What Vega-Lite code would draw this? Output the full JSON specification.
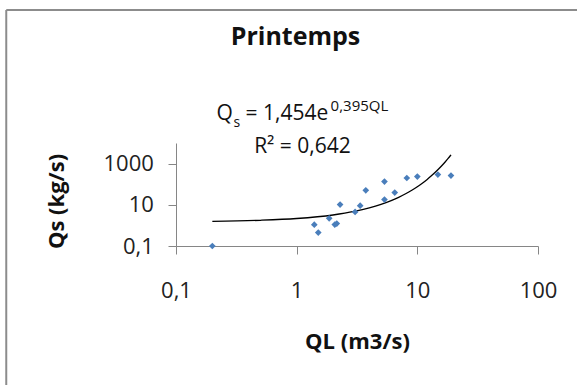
{
  "$schema": "https://vega.github.io/schema/vega-lite/v6.json",
  "width": 362,
  "height": 103,
  "autosize": "none",
  "padding": {"left": 176, "top": 143, "right": 39, "bottom": 139},
  "background": "white",
  "config": {
    "view": {"stroke": null},
    "font": "Open Sans",
    "axis": {
      "grid": false,
      "domainColor": "#868686",
      "tickColor": "#868686",
      "tickSize": 8,
      "labelFont": "Open Sans",
      "labelFontSize": 22,
      "labelColor": "#222222",
      "titleFont": "Open Sans",
      "titleFontSize": 22,
      "titleFontWeight": "bold",
      "titleColor": "#111111",
      "labelFlush": false,
      "labelOverlap": false
    }
  },
  "datasets": {
    "points": [
      {"QL": 0.2, "Qs": 0.1},
      {"QL": 1.40, "Qs": 1.09},
      {"QL": 1.51, "Qs": 0.45},
      {"QL": 1.86, "Qs": 2.2},
      {"QL": 2.07, "Qs": 1.1},
      {"QL": 2.15, "Qs": 1.22},
      {"QL": 2.29, "Qs": 10.2},
      {"QL": 3.05, "Qs": 4.5},
      {"QL": 3.36, "Qs": 9.1},
      {"QL": 3.74, "Qs": 50.6},
      {"QL": 5.34, "Qs": 134},
      {"QL": 5.34, "Qs": 17.9},
      {"QL": 6.50, "Qs": 39},
      {"QL": 8.18, "Qs": 200},
      {"QL": 10.0, "Qs": 234},
      {"QL": 14.8, "Qs": 292},
      {"QL": 19.0, "Qs": 261}
    ],
    "trend": [
      {"QL": 0.2, "Qs": 1.574},
      {"QL": 0.5, "Qs": 1.772},
      {"QL": 1, "Qs": 2.158},
      {"QL": 2, "Qs": 3.204},
      {"QL": 3, "Qs": 4.756},
      {"QL": 4, "Qs": 7.059},
      {"QL": 5, "Qs": 10.48},
      {"QL": 6, "Qs": 15.55},
      {"QL": 7, "Qs": 23.09},
      {"QL": 8, "Qs": 34.27},
      {"QL": 9, "Qs": 50.87},
      {"QL": 10, "Qs": 75.52},
      {"QL": 11, "Qs": 112.1},
      {"QL": 12, "Qs": 166.4},
      {"QL": 13, "Qs": 247.0},
      {"QL": 14, "Qs": 366.6},
      {"QL": 15, "Qs": 544.2},
      {"QL": 16, "Qs": 807.8},
      {"QL": 17, "Qs": 1199},
      {"QL": 18, "Qs": 1780},
      {"QL": 19, "Qs": 2642}
    ],
    "title": [
      {"QL": 0.978, "Qs": 571000000, "t": "Printemps"}
    ],
    "equation": [
      {"QL": 0.217, "Qs": 130000, "q": "Q", "sub": "s", "main": "= 1,454e", "sup": "0,395QL"}
    ],
    "r2": [
      {"QL": 1.117, "Qs": 3162, "t": "R² = 0,642"}
    ]
  },
  "layer": [
    {
      "data": {"values": [{}]},
      "mark": {"type": "rule", "stroke": "#8c8c8c", "strokeWidth": 2, "clip": false},
      "encoding": {
        "x": {"datum": 0.00392, "type": "quantitative", "scale": {"type": "log", "domain": [0.1, 100], "nice": false}},
        "y": {"datum": 2.86e10, "type": "quantitative", "scale": {"type": "log", "domain": [0.1, 10000], "nice": false}},
        "y2": {"datum": 1e-10}
      }
    },
    {
      "data": {"values": [{}]},
      "mark": {"type": "rule", "stroke": "#8c8c8c", "strokeWidth": 2, "clip": false},
      "encoding": {
        "x": {"datum": 0.00392, "type": "quantitative"},
        "x2": {"datum": 1000000},
        "y": {"datum": 2.86e10, "type": "quantitative"}
      }
    },
    {
      "data": {"name": "trend"},
      "mark": {"type": "line", "color": "#000000", "strokeWidth": 1.3, "interpolate": "monotone"},
      "encoding": {
        "x": {"field": "QL", "type": "quantitative"},
        "y": {"field": "Qs", "type": "quantitative"}
      }
    },
    {
      "data": {"name": "points"},
      "mark": {"type": "point", "shape": "diamond", "filled": true, "color": "#4a7ebb", "size": 45, "opacity": 1},
      "encoding": {
        "x": {
          "field": "QL", "type": "quantitative",
          "scale": {"type": "log", "domain": [0.1, 100], "nice": false},
          "axis": {
            "title": "QL (m3/s)",
            "values": [0.1, 1, 10, 100],
            "labelPadding": 43,
            "labelBaseline": "alphabetic",
            "labelExpr": "replace(format(datum.value, ''), '.', ',')",
            "titleY": 102,
            "titleBaseline": "alphabetic"
          }
        },
        "y": {
          "field": "Qs", "type": "quantitative",
          "scale": {"type": "log", "domain": [0.1, 10000], "nice": false},
          "axis": {
            "title": "Qs (kg/s)",
            "values": [0.1, 10, 1000],
            "labelPadding": 14.7,
            "labelBaseline": "middle",
            "labelExpr": "replace(format(datum.value, ''), '.', ',')",
            "titleX": -119.5,
            "titleY": 58,
            "titleBaseline": "middle"
          }
        }
      }
    },
    {
      "data": {"name": "title"},
      "mark": {"type": "text", "align": "center", "baseline": "alphabetic", "fontSize": 25, "fontWeight": "bold", "font": "Open Sans", "color": "#111111"},
      "encoding": {
        "x": {"field": "QL", "type": "quantitative"},
        "y": {"field": "Qs", "type": "quantitative"},
        "text": {"field": "t"}
      }
    },
    {
      "data": {"name": "equation"},
      "mark": {"type": "text", "align": "left", "baseline": "alphabetic", "fontSize": 21, "font": "Open Sans", "color": "#111111"},
      "encoding": {
        "x": {"field": "QL", "type": "quantitative"},
        "y": {"field": "Qs", "type": "quantitative"},
        "text": {"field": "q"}
      }
    },
    {
      "data": {"name": "equation"},
      "mark": {"type": "text", "align": "left", "baseline": "alphabetic", "fontSize": 14, "font": "Open Sans", "color": "#111111", "dx": 17, "dy": 7},
      "encoding": {
        "x": {"field": "QL", "type": "quantitative"},
        "y": {"field": "Qs", "type": "quantitative"},
        "text": {"field": "sub"}
      }
    },
    {
      "data": {"name": "equation"},
      "mark": {"type": "text", "align": "left", "baseline": "alphabetic", "fontSize": 21, "font": "Open Sans", "color": "#111111", "dx": 29},
      "encoding": {
        "x": {"field": "QL", "type": "quantitative"},
        "y": {"field": "Qs", "type": "quantitative"},
        "text": {"field": "main"}
      }
    },
    {
      "data": {"name": "equation"},
      "mark": {"type": "text", "align": "left", "baseline": "alphabetic", "fontSize": 15, "font": "Open Sans", "color": "#111111", "dx": 114, "dy": -9},
      "encoding": {
        "x": {"field": "QL", "type": "quantitative"},
        "y": {"field": "Qs", "type": "quantitative"},
        "text": {"field": "sup"}
      }
    },
    {
      "data": {"name": "r2"},
      "mark": {"type": "text", "align": "center", "baseline": "alphabetic", "fontSize": 21, "font": "Open Sans", "color": "#111111"},
      "encoding": {
        "x": {"field": "QL", "type": "quantitative"},
        "y": {"field": "Qs", "type": "quantitative"},
        "text": {"field": "t"}
      }
    }
  ]
}
